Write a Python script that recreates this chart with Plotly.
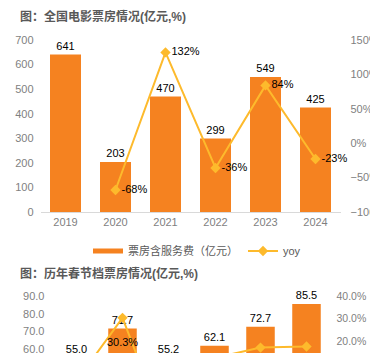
import plotly.graph_objects as go

# ---- data: top chart (national box office) ----
years = ["2019", "2020", "2021", "2022", "2023", "2024"]
box_office = [641, 203, 470, 299, 549, 425]
yoy_years = ["2020", "2021", "2022", "2023", "2024"]
yoy_pct = [-68, 132, -36, 84, -23]

# ---- data: bottom chart (spring festival box office) ----
sf_years = ["2019", "2020", "2021", "2022", "2023", "2024"]
sf_box = [55.0, 71.7, 55.2, 62.1, 72.7, 85.5]
sf_yoy = [2.3, 30.3, -23.0, 12.5, 17.1, 17.6]

W, H = 370, 353
ORANGE = "#F58220"
GOLD = "#FDBA2C"
GRAY = "#7F7F7F"
FONT = "Liberation Sans, Arial, Noto Sans CJK SC"


def fx(p):
    return p / W


def fy(p):
    return (H - p) / H


fig = go.Figure()

# top chart bars
fig.add_trace(go.Bar(
    x=years, y=box_office, xaxis="x", yaxis="y",
    marker=dict(color=ORANGE, line=dict(width=0)), width=0.62,
    text=[str(v) for v in box_office], textposition="outside",
    textfont=dict(size=11, color="#000000", family=FONT),
    cliponaxis=False, showlegend=False, name="票房含服务费（亿元）",
))
# legend stand-in for the bar series
fig.add_trace(go.Scatter(
    x=[None], y=[None], mode="lines", xaxis="x", yaxis="y",
    line=dict(color=ORANGE, width=5), name="票房含服务费（亿元）", showlegend=True,
))
# top chart yoy line
fig.add_trace(go.Scatter(
    x=yoy_years, y=yoy_pct, xaxis="x", yaxis="y2", mode="lines+markers+text",
    line=dict(color=GOLD, width=2), marker=dict(symbol="diamond", size=8, color=GOLD),
    text=[f"{v}%" for v in yoy_pct], textposition="middle right",
    textfont=dict(size=11, color="#000000", family=FONT),
    cliponaxis=False, name="yoy", showlegend=True,
))

# bottom chart bars
fig.add_trace(go.Bar(
    x=sf_years, y=sf_box, xaxis="x2", yaxis="y3",
    marker=dict(color=ORANGE, line=dict(width=0)), width=0.62,
    text=[f"{v:.1f}" for v in sf_box], textposition="outside",
    textfont=dict(size=11, color="#000000", family=FONT),
    cliponaxis=True, showlegend=False, name="春节档票房",
))
# bottom chart yoy line
fig.add_trace(go.Scatter(
    x=sf_years, y=sf_yoy, xaxis="x2", yaxis="y4", mode="lines+markers+text",
    line=dict(color=GOLD, width=2), marker=dict(symbol="diamond", size=8, color=GOLD),
    text=[f"<br>{v:.1f}%" for v in sf_yoy], textposition="bottom center",
    textfont=dict(size=11, color="#000000", family=FONT),
    name="yoy", showlegend=False,
))

tickfont = dict(size=11, color=GRAY, family=FONT)

# bottom chart: plot area top extends 12px above the 90.0 / 40.0% line
left_per_px = (90 - 58.0) / (353 - 296)
right_per_px = (40 - 14.7) / (353 - 296)

fig.update_layout(
    width=W, height=H,
    margin=dict(l=0, r=0, t=0, b=0, autoexpand=False),
    paper_bgcolor="white", plot_bgcolor="rgba(0,0,0,0)",
    font=dict(family=FONT),
    showlegend=True,
    legend=dict(
        orientation="h", x=fx(88), y=fy(251), xanchor="left", yanchor="middle",
        font=dict(size=11, color="#595959", family=FONT),
        bgcolor="rgba(0,0,0,0)", itemwidth=30,
    ),
    xaxis=dict(
        domain=[fx(40.5), fx(340.5)], anchor="y", type="category",
        showline=True, linecolor="#D9D9D9", linewidth=1, ticks="",
        showgrid=False, zeroline=False, tickfont=tickfont, automargin=False,
    ),
    yaxis=dict(
        domain=[fy(212), fy(40)], anchor="x", range=[0, 700], dtick=100,
        showgrid=False, zeroline=False, showline=False, ticks="",
        tickfont=tickfont, ticklabelstandoff=6, automargin=False,
        ticklabeloverflow="allow",
    ),
    yaxis2=dict(
        overlaying="y", side="right", anchor="x", range=[-100, 150], dtick=50,
        ticksuffix="%", showgrid=False, zeroline=False, showline=False, ticks="",
        tickfont=tickfont, ticklabelstandoff=9, automargin=False,
        ticklabeloverflow="allow",
    ),
    xaxis2=dict(
        domain=[fx(53.5), fx(329.5)], anchor="y3", type="category",
        showline=False, ticks="", showgrid=False, zeroline=False,
        showticklabels=False, automargin=False,
    ),
    yaxis3=dict(
        domain=[0, fy(284)], anchor="x2", range=[58.0, 90 + 12 * left_per_px],
        tickvals=[60, 70, 80, 90], tickformat=".1f",
        showgrid=False, zeroline=False, showline=False, ticks="",
        tickfont=tickfont, ticklabelstandoff=8, automargin=False,
        ticklabeloverflow="allow",
    ),
    yaxis4=dict(
        overlaying="y3", side="right", anchor="x2", range=[14.7, 40 + 12 * right_per_px],
        tickvals=[20, 30, 40], ticktext=["20.0%", "30.0%", "40.0%"], showgrid=False,
        zeroline=False, showline=False, ticks="",
        tickfont=dict(size=10.5, color=GRAY, family=FONT),
        ticklabelstandoff=6, automargin=False, ticklabeloverflow="allow",
    ),
    annotations=[
        dict(text="<b>图：全国电影票房情况(亿元,%)</b>", x=fx(18), y=fy(16),
             xref="paper", yref="paper", xanchor="left", yanchor="middle",
             showarrow=False, font=dict(size=12, color="#595959", family=FONT)),
        dict(text="<b>图：历年春节档票房情况(亿元,%)</b>", x=fx(18), y=fy(273),
             xref="paper", yref="paper", xanchor="left", yanchor="middle",
             showarrow=False, font=dict(size=12, color="#595959", family=FONT)),
    ],
)

fig.write_html("out.html")
